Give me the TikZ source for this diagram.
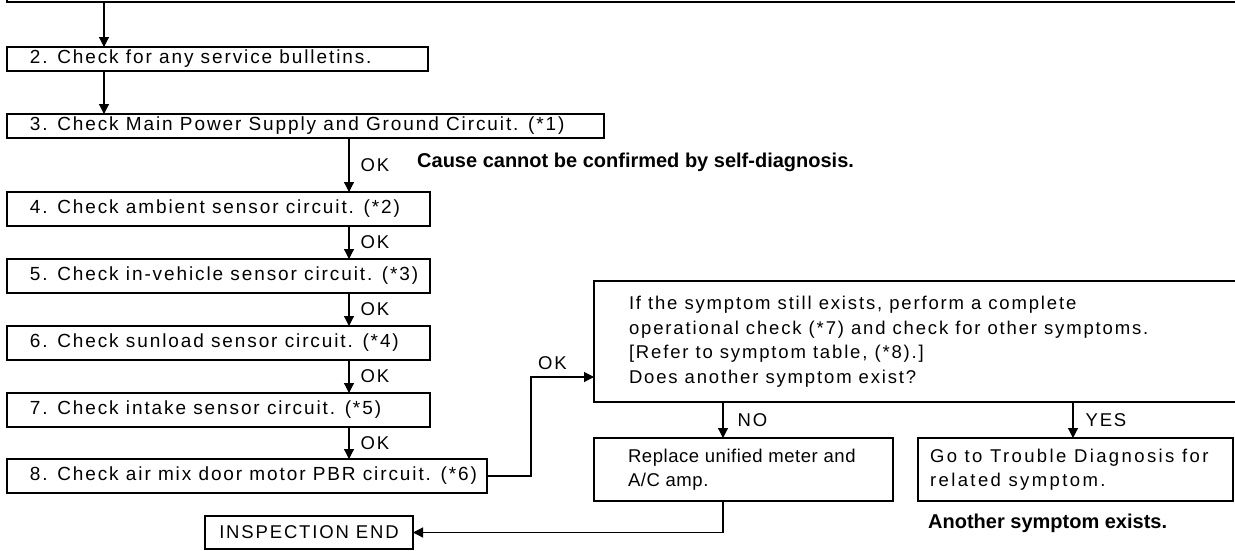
\documentclass[tikz,border=0pt]{standalone}
\usepackage{fontspec}
\setmainfont{Liberation Sans}
\newfontfamily\reg[LetterSpace=10]{Liberation Sans}
\newfontfamily\wide[LetterSpace=13]{Liberation Sans}
\newfontfamily\tight[LetterSpace=3]{Liberation Sans}
\usetikzlibrary{arrows.meta}
\newcommand\boxtxt[2]{\makebox[#1][l]{#2}}
\begin{document}
\begin{tikzpicture}[x=1pt,y=-1pt,
  box/.style={draw=black, line width=1.2pt, anchor=north west, inner ysep=0pt, outer sep=0pt,
              font=\reg\fontsize{18.5}{24.5}\selectfont},
  stepbox/.style={box, inner xsep=23pt, font=\reg\fontsize{19}{24.5}\selectfont},
  lbl/.style={font=\reg\fontsize{18.5}{22}\selectfont, inner sep=0pt, anchor=west},
  note/.style={font=\bfseries\fontsize{20}{24}\selectfont, inner sep=0pt, anchor=west},
  arr/.style={line width=1.2pt, -{Triangle[length=10pt,width=10pt]}}]
\useasboundingbox (0,0) rectangle (1235,550);
\clip (0,0) rectangle (1235,550);

% boxes
\node[box, anchor=south west, minimum width=1400pt, minimum height=40pt, inner sep=0pt] (b1) at (7,2) {};
\node[stepbox, minimum height=24pt] (b2) at (7,47) {\boxtxt{375pt}{2. Check for any service bulletins.}};
\node[stepbox, minimum height=24pt] (b3) at (7,114) {\boxtxt{551pt}{3. Check Main Power Supply and Ground Circuit. (*1)}};
\node[stepbox, minimum height=34pt] (b4) at (7,192) {\boxtxt{377pt}{4. Check ambient sensor circuit. (*2)}};
\node[stepbox, minimum height=34pt] (b5) at (7,259) {\boxtxt{377pt}{5. Check in-vehicle sensor circuit. (*3)}};
\node[stepbox, minimum height=34pt] (b6) at (7,326) {\boxtxt{377pt}{6. Check sunload sensor circuit. (*4)}};
\node[stepbox, minimum height=34pt] (b7) at (7,393) {\boxtxt{377pt}{7. Check intake sensor circuit. (*5)}};
\node[stepbox, minimum height=34pt] (b8) at (7,459) {\boxtxt{434pt}{8. Check air mix door motor PBR circuit. (*6)}};

\node[box, inner xsep=35pt, minimum height=121pt] (b9) at (594,281) {\boxtxt{700pt}{\begin{tabular}{@{}l@{}}If the symptom still exists, perform a complete\\operational check (*7) and check for other symptoms.\\{}[Refer to symptom table, (*8).]\\Does another symptom exist?\end{tabular}}};
\node[box, inner xsep=34pt, minimum height=63pt, font=\tight\fontsize{18.5}{24.5}\selectfont] (b10) at (594,438) {\boxtxt{231pt}{\begin{tabular}{@{}l@{}}Replace unified meter and\\A/C amp.\end{tabular}}};
\node[box, inner xsep=12pt, minimum height=63pt, font=\wide\fontsize{18.5}{24.5}\selectfont] (b11) at (918,438) {\boxtxt{291pt}{\begin{tabular}{@{}l@{}}Go to Trouble Diagnosis for\\related symptom.\end{tabular}}};
\node[box, inner xsep=0pt, minimum width=208pt, minimum height=33pt] (endn) at (205,516) {INSPECTION END};

% notes
\node[note] (cause) at (417,162) {Cause cannot be confirmed by self-diagnosis.};
\node[note] (another) at (928,523) {Another symptom exists.};

% connectors
\coordinate (c1) at (104,0);
\coordinate (c2) at (349,0);
\coordinate (c3) at (531,377);
\coordinate (c4) at (723,0);
\coordinate (c5) at (1073,0);

\draw[arr] (b1.south -| c1) -- (b2.north -| c1);
\draw[arr] (b2.south -| c1) -- (b3.north -| c1);
\draw[arr] (b3.south -| c2) -- node[lbl, midway, xshift=11pt] (ok1) {OK} (b4.north -| c2);
\draw[arr] (b4.south -| c2) -- node[lbl, midway, xshift=11pt] (ok2) {OK} (b5.north -| c2);
\draw[arr] (b5.south -| c2) -- node[lbl, midway, xshift=11pt] (ok3) {OK} (b6.north -| c2);
\draw[arr] (b6.south -| c2) -- node[lbl, midway, xshift=11pt] (ok4) {OK} (b7.north -| c2);
\draw[arr] (b7.south -| c2) -- node[lbl, midway, xshift=11pt] (ok5) {OK} (b8.north -| c2);
\draw[arr] (b8.east) -| (c3) -- (b9.west |- c3);
\node[lbl] (ok6) at (538,363) {OK};
\draw[arr] (b9.south -| c4) -- node[lbl, midway, xshift=14pt] (no) {NO} (b10.north -| c4);
\draw[arr] (b9.south -| c5) -- node[lbl, midway, xshift=12pt] (yes) {YES} (b11.north -| c5);
\draw[arr] (b10.south -| c4) |- (endn.east);
\end{tikzpicture}
\end{document}
